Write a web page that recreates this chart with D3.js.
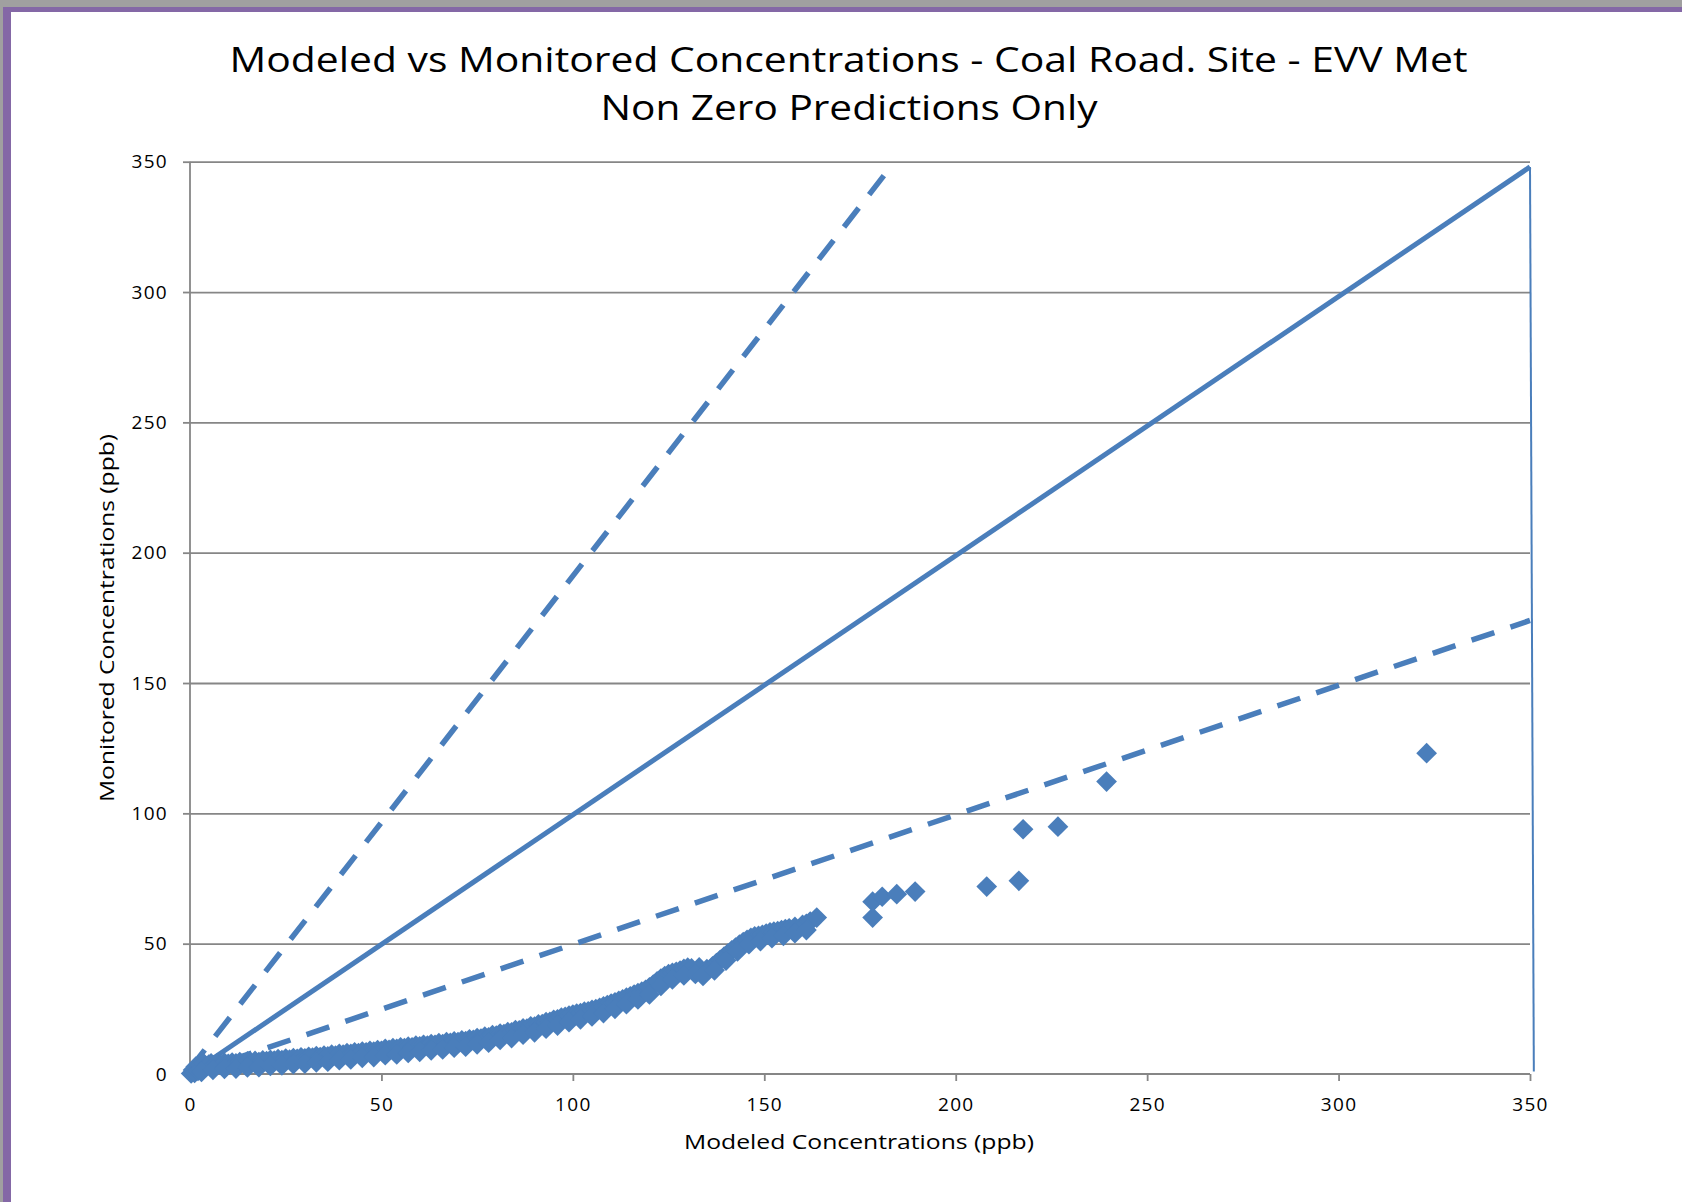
<!DOCTYPE html>
<html>
<head>
<meta charset="utf-8">
<script src="https://cdn.jsdelivr.net/npm/d3@7"></script>
<style>
  html, body { margin: 0; padding: 0; background: #fff; }
  svg { display: block; }
  text { font-family: "Open Sans", "DejaVu Sans", sans-serif; fill: #000; }
</style>
</head>
<body>
<script>
// ---------------- data ----------------
const titleLines = ["Modeled vs Monitored Concentrations - Coal Road. Site - EVV Met", "Non Zero Predictions Only"];
const xAxisTitle = "Modeled Concentrations (ppb)";
const yAxisTitle = "Monitored Concentrations (ppb)";
const xTicks = [0, 50, 100, 150, 200, 250, 300, 350];
const yTicks = [0, 50, 100, 150, 200, 250, 300, 350];

// scatter series: modeled (x) vs monitored (y)
const modeled = [
  0.3, 0.8, 1.2, 1.5, 2.1, 2.6, 3.0, 3.6, 4.2, 4.9, 5.5, 6.2,
  7, 8, 9, 10, 11, 12, 13, 14, 15, 16, 17, 18, 19, 20,
  21, 22, 23, 24, 25, 26, 27, 28, 29, 30, 31, 32, 33, 34, 35, 36, 37, 38, 39, 40,
  41, 42, 43, 44, 45, 46, 47, 48, 49, 50, 51, 52, 53, 54, 55, 56, 57, 58, 59, 60,
  61, 62, 63, 64, 65, 66, 67, 68, 69, 70, 71, 72, 73, 74, 75, 76, 77, 78, 79, 80,
  81, 82, 83, 84, 85, 86, 87, 88, 89, 90, 91, 92, 93, 94, 95, 96, 97, 98, 99, 100,
  101, 102, 103, 104, 105, 106, 107, 108, 109, 110, 111, 112, 113, 114, 115, 116, 117, 118, 119, 120,
  121, 122, 123, 124, 125, 126, 127, 128, 129, 130, 131, 133, 135, 136.5, 137.5, 138.5, 139.5, 140.5,
  141.5, 142.5, 143.5, 144.5, 145.5, 146.5, 147.5, 148.5, 149.5, 150.5, 151.5, 152.5, 153.5, 154.5,
  155.5, 156.5, 158, 160, 161, 162, 163.7,
  3, 6, 9, 12, 15, 18, 21, 24, 27, 30, 33, 36, 39, 42, 45, 48, 51, 54, 57, 60,
  63, 66, 69, 72, 75, 78, 81, 84, 87, 90, 93, 96, 99, 102, 105, 108, 111, 114, 117, 120,
  123, 126, 129, 132, 134, 137, 140, 143, 146, 149, 152, 155, 158, 161,
  178.3, 178.3, 180.8, 184.6, 189.4, 208.1, 216.5, 217.6, 226.7, 239.4, 323.0
];
const monitored = [
  0.2, 1.5, 0.4, 2.8, 1.2, 3.5, 2.1, 4.0, 2.9, 3.6, 4.1, 3.3,
  4.0, 3.6, 4.3, 3.9, 4.4, 4.1, 4.6, 4.2, 4.8, 4.4, 5.0, 4.6, 5.2, 4.9,
  5.4, 5.1, 5.7, 5.3, 5.9, 5.5, 6.1, 5.8, 6.4, 6.0, 6.6, 6.3, 6.9, 6.5, 7.1, 6.8, 7.4, 7.1, 7.7, 7.4,
  8.0, 7.7, 8.3, 8.0, 8.6, 8.3, 8.9, 8.6, 9.2, 8.9, 9.6, 9.3, 9.9, 9.6, 10.2, 9.9, 10.5, 10.2, 10.9, 10.6,
  11.2, 10.9, 11.5, 11.2, 11.8, 11.5, 12.2, 11.9, 12.5, 12.2, 12.9, 12.6, 13.3, 13.1, 13.8, 13.6, 14.3, 14.1, 14.9, 14.7,
  15.5, 15.3, 16.1, 16.0, 16.8, 16.7, 17.5, 17.4, 18.3, 18.2, 19.0, 19.1, 19.9, 20.0, 20.8, 21.0, 21.6, 21.9, 22.4, 22.8,
  23.2, 23.4, 23.9, 24.0, 24.6, 24.9, 25.4, 25.9, 26.4, 27.0, 27.5, 28.1, 28.6, 29.3, 29.8, 30.5, 31.0, 31.6, 32.3, 33.2,
  34.3, 35.5, 36.6, 37.6, 38.3, 38.8, 39.2, 39.7, 40.3, 40.8, 40.5, 40.9, 40.2, 41.3, 42.5, 43.8, 45.0, 46.2,
  47.4, 48.5, 49.6, 50.6, 51.5, 52.2, 52.8, 53.0, 53.4, 53.9, 54.3, 54.6, 54.8, 55.2,
  55.6, 55.9, 56.4, 57.2, 57.6, 58.5, 60.0,
  0.8, 1.6, 2.0, 2.1, 2.5, 2.6, 3.1, 3.3, 3.8, 4.0, 4.5, 4.7, 5.3, 5.6, 6.2, 6.5, 7.2, 7.5, 8.1, 8.5,
  9.1, 9.4, 10.1, 10.5, 11.4, 12.0, 13.1, 13.8, 15.1, 16.0, 17.4, 18.6, 19.9, 21.0, 22.1, 23.4, 25.0, 26.8, 28.6, 30.5,
  33.8, 36.3, 37.8, 38.4, 37.6, 39.8, 43.5, 47.0, 49.8, 51.0, 52.1, 53.0, 54.0, 55.2,
  60.0, 66.1, 68.0, 69.0, 70.0, 71.9, 74.1, 93.9, 94.9, 112.2, 123.1
];

// reference lines (endpoints)
const lineOneToOne = [[0, 0], [350, 348]];
const lineUpperDashed = [[0, 2], [183, 348]];
const lineLowerDashed = [[0, 0], [350, 174]];
const lineRightEdge = [[350, 348], [351, 1]];

// ---------------- chart ----------------
const W = 1682, H = 1202;
const blue = "#4a7ebb", grid = "#868686";

const svg = d3.select("body").append("svg").attr("width", W).attr("height", H);

// frame
svg.append("rect").attr("x", 0).attr("y", 0).attr("width", W).attr("height", H).attr("fill", "#fff");
svg.append("rect").attr("x", 0).attr("y", 0).attr("width", W).attr("height", 7).attr("fill", "#a0a0a0");
svg.append("rect").attr("x", 0).attr("y", 7).attr("width", W).attr("height", 5).attr("fill", "#8468a6");
svg.append("rect").attr("x", 0).attr("y", 0).attr("width", 3).attr("height", H).attr("fill", "#a0a0a0");
svg.append("rect").attr("x", 3).attr("y", 7).attr("width", 8).attr("height", H - 7).attr("fill", "#8468a6");

const x = d3.scaleLinear().domain([0, 350]).range([190, 1530]);
const y = d3.scaleLinear().domain([0, 350]).range([1074, 161.7]);

// gridlines
const gy = svg.append("g").attr("transform", `translate(${x(0)},0)`)
  .call(d3.axisLeft(y).tickValues(yTicks.filter(v => v > 0)).tickSize(-(x(350) - x(0))).tickFormat(""));
gy.select(".domain").remove();
gy.selectAll(".tick line").attr("stroke", grid).attr("stroke-width", 1.8);

// y axis
const ya = svg.append("g").attr("transform", `translate(${x(0)},0)`)
  .call(d3.axisLeft(y).tickValues(yTicks).tickSize(7).tickPadding(15));
ya.select(".domain").attr("stroke", grid).attr("stroke-width", 1.8).attr("d", `M0,${y(0)}V${y(350)}`);
ya.selectAll(".tick line").attr("stroke", grid).attr("stroke-width", 1.8);
ya.selectAll(".tick text").attr("font-size", 19).attr("letter-spacing", 1.3)
  .style("font-family", '"Open Sans", sans-serif').attr("fill", "#000");

// x axis
const xa = svg.append("g").attr("transform", `translate(0,${y(0)})`)
  .call(d3.axisBottom(x).tickValues(xTicks).tickSize(7).tickPadding(17));
xa.select(".domain").attr("stroke", grid).attr("stroke-width", 1.8).attr("d", `M${x(0)},0H${x(350)}`);
xa.selectAll(".tick line").attr("stroke", grid).attr("stroke-width", 1.8);
xa.selectAll(".tick text").attr("font-size", 19).attr("letter-spacing", 1.3)
  .style("font-family", '"Open Sans", sans-serif').attr("fill", "#000");

// reference lines
const line = d3.line().x(d => x(d[0])).y(d => y(d[1]));
svg.append("path").attr("d", line(lineOneToOne)).attr("fill", "none")
  .attr("stroke", blue).attr("stroke-width", 5);
svg.append("path").attr("d", line(lineUpperDashed)).attr("fill", "none")
  .attr("stroke", blue).attr("stroke-width", 5.5).attr("stroke-dasharray", "24,17");
svg.append("path").attr("d", line(lineLowerDashed)).attr("fill", "none")
  .attr("stroke", blue).attr("stroke-width", 5.5).attr("stroke-dasharray", "24,17");
svg.append("path").attr("d", line(lineRightEdge)).attr("fill", "none")
  .attr("stroke", blue).attr("stroke-width", 2);

// scatter points (diamonds)
const pts = modeled.map((m, i) => ({ m, v: monitored[i] }));
const sym = d3.symbol().type(d3.symbolSquare).size(215);
svg.append("g").selectAll("path").data(pts).join("path")
  .attr("d", sym)
  .attr("transform", d => `translate(${x(d.m)},${y(d.v)}) rotate(45)`)
  .attr("fill", blue);

// titles
svg.append("text").attr("x", 848.5).attr("y", 71.5).attr("text-anchor", "middle")
  .attr("font-size", 34).attr("textLength", 1238).attr("lengthAdjust", "spacingAndGlyphs")
  .text(titleLines[0]);
svg.append("text").attr("x", 849).attr("y", 119.5).attr("text-anchor", "middle")
  .attr("font-size", 34).attr("textLength", 497).attr("lengthAdjust", "spacingAndGlyphs")
  .text(titleLines[1]);

svg.append("text").attr("x", 859).attr("y", 1149).attr("text-anchor", "middle")
  .attr("font-size", 20).attr("textLength", 350).attr("lengthAdjust", "spacingAndGlyphs")
  .text(xAxisTitle);
svg.append("text").attr("transform", "translate(114,618) rotate(-90)").attr("text-anchor", "middle")
  .attr("font-size", 20).attr("textLength", 368).attr("lengthAdjust", "spacingAndGlyphs")
  .text(yAxisTitle);
</script>
</body>
</html>
